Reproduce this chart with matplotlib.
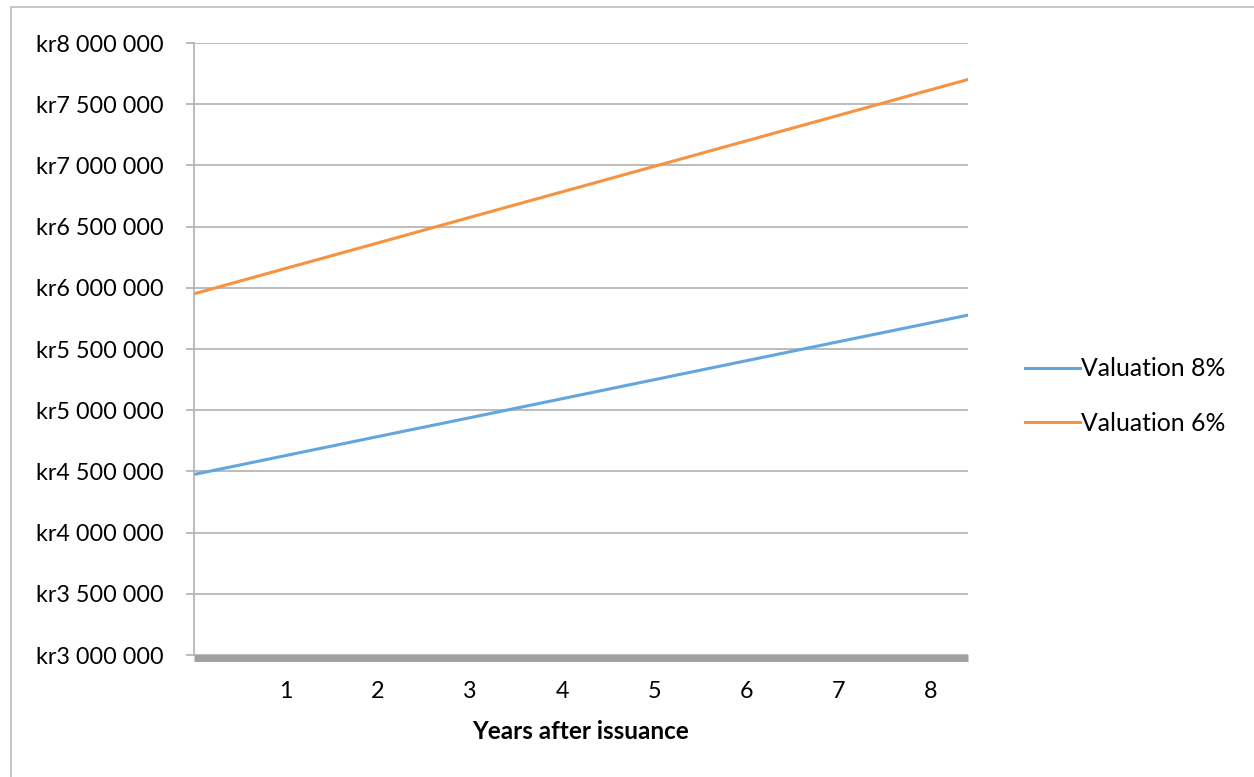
import matplotlib.pyplot as plt
from matplotlib.patches import Rectangle
from matplotlib.ticker import FuncFormatter

plt.rcParams['font.family'] = ['Lato', 'DejaVu Sans']

years = [0, 1, 2, 3, 4, 5, 6, 7, 8, 8.41]
val_8 = [4475000, 4630000, 4785000, 4939000, 5094000, 5249000, 5404000, 5559000, 5713000, 5777000]
val_6 = [5951000, 6159000, 6367000, 6576000, 6784000, 6992000, 7200000, 7408000, 7617000, 7702000]
xticks = [1, 2, 3, 4, 5, 6, 7, 8]
yticks = [3000000, 3500000, 4000000, 4500000, 5000000, 5500000, 6000000, 6500000, 7000000, 7500000, 8000000]

def kr(v, pos):
    return 'kr' + f'{int(v):,}'.replace(',', ' ')

fig = plt.figure(figsize=(12.54, 7.77), dpi=100)
ax = fig.add_axes([194/1254, 1-655/777, (968-194)/1254, (655-43)/777])

# outer frame of the chart area
fig.patches.append(Rectangle((11/1254, -0.1), 1.2, 1-7/777+0.1, transform=fig.transFigure,
                             fill=False, edgecolor='#BDBDBD', linewidth=1.2))

ax.plot(years, val_8, color='#62A6DD', linewidth=2.2, label='Valuation 8%')
ax.plot(years, val_6, color='#F7923F', linewidth=2.2, label='Valuation 6%')

ax.set_xlim(0, 8.41)
ax.set_ylim(3000000, 8000000)
ax.set_xticks(xticks)
ax.set_yticks(yticks)
ax.yaxis.set_major_formatter(FuncFormatter(kr))
ax.grid(axis='y', color='#B0B0B0', linewidth=1.2)
ax.set_axisbelow(True)

for s in ['top', 'right']:
    ax.spines[s].set_visible(False)
ax.spines['left'].set_color('#B0B0B0')
ax.spines['left'].set_linewidth(1.2)
ax.spines['bottom'].set_color('#A0A0A0')
ax.spines['bottom'].set_linewidth(5)
ax.spines['bottom'].set_capstyle('butt')
ax.spines['bottom'].set_position(('outward', 2))

ax.tick_params(axis='y', length=6, color='#B0B0B0', width=1.2, pad=16, labelsize=16.8)
ax.tick_params(axis='x', length=0, pad=17, labelsize=16.8)
ax.set_xlabel('Years after issuance', fontsize=17.5, fontweight='bold', labelpad=13)

ax.legend(loc='center left', bbox_to_anchor=(1003/1254, 1-396/777), bbox_transform=fig.transFigure,
          frameon=False, fontsize=17.8, handlelength=2.2, handletextpad=0.05, labelspacing=1.28)

fig.savefig('out.png', dpi=100)
